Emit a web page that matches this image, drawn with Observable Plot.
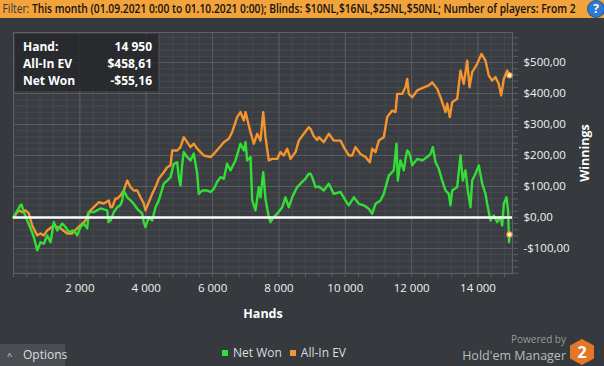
<!DOCTYPE html>
<html><head><meta charset="utf-8">
<script src="https://cdn.jsdelivr.net/npm/d3@7"></script>
<script src="https://cdn.jsdelivr.net/npm/@observablehq/plot@0.6"></script>
<style>
html,body{margin:0;padding:0}
body{background:#36393d;width:604px;height:366px;overflow:hidden;font-family:"Open Sans",sans-serif;position:relative}
#filter{height:18px;background:#f2a33b;color:#111;font-size:12px;line-height:18px;white-space:nowrap;overflow:hidden;position:relative}
#filterText{display:inline-block;transform-origin:0 50%;padding-left:3px}
#filterText .lbl{font-weight:400;color:#333}
#filterText .val{font-weight:600}
#help{position:absolute;left:588px;top:1px;width:16px;height:16px;border-radius:50%;background:#2f79cf;color:#fff;font-weight:700;font-size:12px;line-height:16px;text-align:center;box-shadow:0 0 0 1px #1d5aa3}
#chart{position:relative;height:322px}
#chart svg{display:block}
#info{position:absolute;left:15px;top:34px;width:143px;height:57px;background:rgba(36,38,41,0.82);color:#fff;font-weight:700;font-size:12px}
#info .row{position:absolute;left:8px;right:6px;height:17px;line-height:17px}
#info .row span:last-child{position:absolute;right:0}
#bottom{position:absolute;left:0;top:340px;width:604px;height:26px}
#options{position:absolute;left:0;top:4px;width:65px;height:22px;background:#4a4d52;color:#ddd;font-size:12px;line-height:22px}
#options .car{position:absolute;left:7px;top:1px;font-size:9px}
#options .txt{position:absolute;left:23px}
#legend{position:absolute;left:222px;top:4px;height:18px;color:#ddd;font-size:12px;line-height:18px;white-space:nowrap}
#legend i{display:inline-block;width:6px;height:6px;margin-right:5px;vertical-align:1px}
#legend span{margin-right:8px}
#powered{position:absolute;right:38px;top:-7px;color:#999;font-size:10px;line-height:12px}
#hem{position:absolute;right:38px;top:8px;color:#bbb;font-size:12.5px;line-height:15px}
#hex{position:absolute;left:569px;top:-2px}
</style></head>
<body>
<div id="filter"><span id="filterText"><span class="lbl">Filter: </span><span class="val" id="fv">This month (01.09.2021 0:00 to 01.10.2021 0:00); Blinds: $10NL,$16NL,$25NL,$50NL; Number of players: From 2</span></span><div id="help">?</div></div>
<div id="chart"></div>
<div id="info">
  <div class="row" style="top:4px"><span>Hand:</span><span id="iHand"></span></div>
  <div class="row" style="top:21px"><span>All-In EV</span><span id="iEv"></span></div>
  <div class="row" style="top:38px"><span>Net Won</span><span id="iNet"></span></div>
</div>
<div id="bottom">
  <div id="options"><span class="car">&#94;</span><span class="txt">Options</span></div>
  <div id="legend"></div>
  <div id="powered">Powered by</div>
  <div id="hem">Hold'em Manager</div>
  <svg id="hex" width="26" height="28" viewBox="0 0 26 28"><polygon points="13,1 25,7.5 25,20.5 13,27 1,20.5 1,7.5" fill="#e2772a"/><text x="13" y="20" text-anchor="middle" font-family="Open Sans" font-weight="700" font-size="16" fill="#fff">2</text></svg>
</div>
<script>
// ---- data ----
const seriesNames = ["Net Won", "All-In EV"];
const seriesColors = ["#33df37", "#f4942f"];

const netWonHands = [0,211,241,310,413,512,612,714,814,913,1016,1115,1215,1317,1468,1567,1667,1817,1920,2019,2119,2221,2270,2420,2622,2824,2863,2924,3023,3126,3225,3276,3323,3427,3526,3626,3728,3879,3927,3978,4078,4180,4280,4379,4530,4633,4732,4831,4934,4982,5033,5085,5133,5235,5335,5434,5537,5585,5687,5838,5938,6037,6140,6239,6338,6440,6540,6691,6842,6941,6993,7043,7143,7195,7294,7393,7445,7526,7595,7695,7746,7845,7948,8099,8198,8298,8400,8551,8650,8801,8900,8952,9003,9102,9202,9352,9503,9654,9856,10006,10106,10256,10407,10558,10709,10811,10911,11061,11161,11312,11462,11544,11583,11664,11764,11815,11866,11914,11966,12017,12168,12318,12469,12569,12638,12720,12819,12921,13020,13120,13171,13222,13373,13473,13542,13623,13693,13774,13825,13925,14024,14127,14226,14277,14377,14476,14579,14678,14729,14778,14859,14910,14935,14950];
const netWonValues = [0,40,42,17,-10,-35,-63,-106,-80,-85,-58,-80,-15,-42,-20,-31,-47,-42,-58,-31,-20,-35,17,17,29,23,-15,-10,17,33,40,55,87,65,55,44,28,12,-15,-31,1,-10,33,55,109,119,130,173,178,130,103,173,211,195,184,206,141,76,87,87,82,92,115,130,125,173,152,184,238,216,243,184,195,55,23,98,65,146,60,1,-15,1,12,33,65,33,65,98,109,125,141,141,130,98,100,87,109,76,82,55,39,65,44,39,28,12,44,55,76,135,152,238,119,184,152,189,216,211,195,168,189,184,195,205,227,178,157,119,87,76,39,87,98,200,119,152,87,33,119,141,168,109,76,44,-10,6,-15,1,-26,44,65,17,-80,-55.16];

const allInHands = [0,160,262,362,461,564,714,814,913,1016,1215,1417,1618,1769,1920,2071,2170,2270,2420,2571,2722,2872,2924,2975,3074,3126,3225,3323,3427,3526,3626,3728,3828,3927,3978,4078,4180,4280,4379,4530,4633,4732,4783,4934,5033,5133,5235,5335,5434,5537,5636,5736,5938,6037,6140,6239,6338,6489,6590,6741,6842,6941,6993,7092,7143,7244,7345,7445,7526,7595,7695,7796,7948,8047,8147,8249,8349,8500,8599,8750,8900,8952,9051,9153,9202,9352,9503,9654,9856,9955,10106,10207,10307,10458,10609,10739,10811,10911,11011,11161,11263,11414,11513,11564,11715,11815,11866,11914,12017,12168,12368,12519,12620,12771,12870,12971,13020,13072,13150,13222,13373,13473,13572,13675,13744,13825,13976,14105,14226,14326,14427,14527,14627,14699,14778,14880,14950];
const allInValues = [0,23,17,23,13,-26,-58,-52,-58,-42,-26,-35,-52,-52,-35,-20,-10,17,33,49,45,55,33,33,61,61,71,87,119,98,87,87,65,45,23,49,76,98,125,146,162,168,216,216,227,259,243,227,238,222,211,200,195,205,218,230,243,254,275,324,340,313,340,297,275,238,270,248,340,259,184,189,189,211,200,222,189,211,248,270,291,286,262,250,259,243,270,248,248,227,200,200,227,205,195,178,222,211,248,259,324,345,340,399,399,420,447,399,388,410,420,426,436,415,388,356,340,367,324,372,383,474,431,506,420,469,496,528,506,458,442,453,431,394,447,474,458.61];

const xTicks = [2000,4000,6000,8000,10000,12000,14000];
const yTicks = [-100,0,100,200,300,400,500];
const infoHand = 14950;

// ---- build ----
const fmtX = d => String(d).replace(/\B(?=(\d{3})+(?!\d))/g, " ");
const fmtMoney = d => (d < 0 ? "-" : "") + "$" + Math.abs(d).toFixed(2).replace(".", ",");

const net = netWonHands.map((h, i) => ({h, v: netWonValues[i]}));
const ev = allInHands.map((h, i) => ({h, v: allInValues[i]}));
const lastNet = net[net.length - 1], lastEv = ev[ev.length - 1];

const xDomain = [0, 15040], yDomain = [-181, 597];
const xMinor = d3.range(0, xDomain[1], 400);
const yMinor = d3.range(-180, yDomain[1], 20);

const chart = Plot.plot({
  width: 604, height: 322,
  marginTop: 14, marginBottom: 67, marginLeft: 13, marginRight: 92,
  style: {background: "transparent", color: "#f2f2f2", fontFamily: "Open Sans", fontSize: "11.5px"},
  x: {domain: xDomain},
  y: {domain: yDomain},
  marks: [
    Plot.frame({fill: "#3a3d41"}),
    Plot.ruleY(yMinor, {stroke: "#474a4f", strokeWidth: 1}),
    Plot.ruleX(xMinor, {stroke: "#474a4f", strokeWidth: 1}),
    Plot.ruleY(yTicks, {stroke: "#595c61", strokeWidth: 1}),
    Plot.ruleX([0].concat(xTicks), {stroke: "#595c61", strokeWidth: 1}),
    Plot.frame({stroke: "#5d6065"}),
    Plot.axisX({ticks: xMinor, tickSize: 4, tickFormat: () => "", stroke: "#5d6065", label: null}),
    Plot.axisX({ticks: xTicks, tickSize: 0, tickPadding: 10, tickFormat: fmtX, label: "Hands", labelAnchor: "center", labelOffset: 44, labelArrow: "none"}),
    Plot.axisY({anchor: "right", ticks: yMinor, tickSize: 5, tickFormat: () => "", stroke: "#5d6065", label: null}),
    Plot.axisY({anchor: "right", ticks: yTicks, tickSize: 0, tickPadding: 11, tickFormat: fmtMoney, textAnchor: "start", label: "Winnings", labelAnchor: "center", labelOffset: 76, labelArrow: "none"}),
    Plot.line(ev, {x: "h", y: "v", stroke: seriesColors[1], strokeWidth: 2.4, strokeLinejoin: "round"}),
    Plot.line(net, {x: "h", y: "v", stroke: seriesColors[0], strokeWidth: 2.4, strokeLinejoin: "round"}),
    Plot.ruleY([0], {stroke: "#ffffff", strokeWidth: 2.5}),
    Plot.dot([lastEv, lastNet], {x: "h", y: "v", r: 2.6, fill: "#fff4dc", stroke: "#f4942f", strokeWidth: 1.2})
  ]
});
document.getElementById("chart").appendChild(chart);

// bold axis labels
chart.querySelectorAll('[aria-label="x-axis label"] text, [aria-label="y-axis label"] text').forEach(t => {
  t.setAttribute("font-weight", "700"); t.setAttribute("font-size", "12.5px"); t.setAttribute("fill", "#ffffff");
});

// info box
document.getElementById("iHand").textContent = fmtX(infoHand);
document.getElementById("iEv").textContent = fmtMoney(lastEv.v);
document.getElementById("iNet").textContent = fmtMoney(lastNet.v);

// legend
const lg = document.getElementById("legend");
seriesNames.forEach((n, i) => {
  const s = document.createElement("span");
  s.innerHTML = `<i style="background:${seriesColors[i]}"></i>${n}`;
  lg.appendChild(s);
});

// fit the filter text width to reference (text up to "From 2" ends near x=576)
const ft = document.getElementById("filterText");
const fv = document.getElementById("fv");
const endX = fv.getBoundingClientRect().right;
const k = (576 - 3) / (endX - 3);
ft.style.transform = `scaleX(${k})`;
</script>
</body></html>
